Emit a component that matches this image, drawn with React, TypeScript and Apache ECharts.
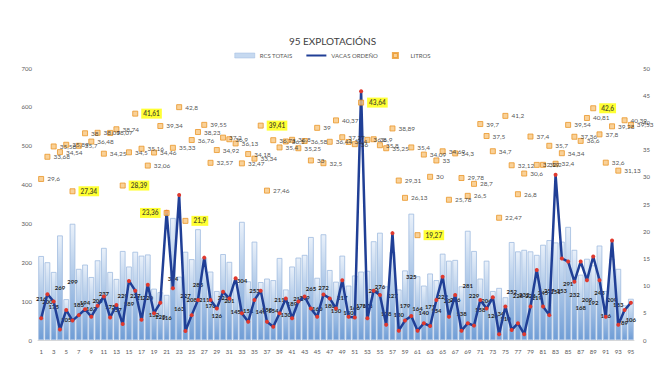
import React, { useEffect, useRef } from "react";
import * as echarts from "echarts";

const TITLE = "95 EXPLOTACIÓNS";
const SERIES_NAMES = ["RCS TOTAIS", "VACAS ORDEÑO", "LITROS"];

const categories: string[] = Array.from({ length: 95 }, (_, i) => String(i + 1));

const rcsTotais: number[] = [
  216, 200, 175, 269, 105, 299, 183, 194, 162, 205,
  237, 175, 157, 229, 189, 227, 217, 220, 132, 123,
  116, 314, 163, 227, 208, 285, 211, 176, 126, 221,
  201, 145, 304, 151, 253, 149, 158, 154, 211, 130,
  189, 212, 219, 265, 160, 272, 180, 150, 217, 140,
  166, 176, 178, 254, 276, 138, 227, 130, 179, 325,
  164, 140, 171, 154, 222, 204, 206, 138, 281, 229,
  158, 204, 126, 134, 110, 252, 228, 232, 228, 219,
  245, 257, 251, 253, 291, 232, 168, 209, 192, 243,
  126, 209, 183, 89, 106,
];

const vacasOrdeno: number[] = [
  56, 118, 99, 27, 77, 50, 64, 79, 60, 88,
  112, 58, 90, 41, 152, 127, 52, 142, 69, 96,
  330, 133, 373, 23, 64, 103, 212, 103, 81, 124,
  107, 159, 69, 47, 103, 127, 47, 34, 69, 107,
  56, 99, 112, 81, 60, 117, 107, 81, 154, 60,
  58, 640, 56, 127, 116, 39, 275, 24, 50, 62,
  24, 43, 36, 103, 163, 60, 116, 24, 43, 37,
  103, 81, 110, 15, 86, 26, 43, 15, 86, 180,
  86, 64, 425, 210, 202, 150, 202, 154, 215, 154,
  60, 256, 39, 77, 96,
];

const litros: number[] = [
  29.6, 33.68, 35.58, 34.54, 35.89, 27.34, 35.7, 38, 36.48, 38.09,
  34.25, 38.07, 38.74, 28.39, 34.5, 41.61, 35.16, 32.06, 34.46, 39.34,
  23.36, 35.33, 42.8, 21.9, 36.76, 38.23, 39.55, 32.57, 34.92, 37.2,
  36.9, 36.13, 32.47, 34.18, 33.34, 39.41, 27.46, 36.73, 35.4, 36.5,
  36.8, 35.25, 36.58, 33, 39, 32.5, 36.44, 40.37, 37.27, 36.4,
  36, 43.64, 36.8, 36.9, 35.8, 35.25, 38.89, 29.31, 26.13, 35.4,
  19.27, 34.09, 30, 33, 34.69, 25.78, 34.3, 29.78, 26.5, 28.7,
  39.7, 37.5, 34.7, 22.47, 41.2, 32.12, 26.8, 30.6, 37.4, 32.19,
  32.2, 35.7, 32.4, 34.34, 39.54, 37.36, 36.6, 40.81, 42.6, 37.8,
  32.6, 39.28, 31.13, 40.39, 39.53,
];

// farms whose litre label is highlighted in yellow
const highlightedLitros: number[] = [6, 14, 16, 21, 24, 36, 52, 61, 89];
const leftLabelLitros: number[] = [21];

const leftTicks = { min: 0, max: 700, interval: 100 };
const rightTicks = { min: 0, max: 50, interval: 5 };

const FONT = 'Lato, "Liberation Sans", "DejaVu Sans", sans-serif';

export default function App() {
  const ref = useRef<HTMLDivElement>(null);

  useEffect(() => {
    document.body.style.margin = "0";
    if (!ref.current) return;
    const chart = echarts.init(ref.current, undefined, { renderer: "svg" });

    const fmt = (v: number) => String(v).replace(".", ",");

    const litrosData = litros.map((v, i) => {
      const farm = i + 1;
      const item: any = { value: v };
      if (highlightedLitros.includes(farm)) {
        item.label = {
          backgroundColor: "#ffff00",
          padding: [2, 2, 1, 2],
          fontWeight: "bold",
        };
      }
      if (leftLabelLitros.includes(farm)) {
        item.label = { ...(item.label || {}), position: "left" };
      }
      return item;
    });

    const option: any = {
      animation: false,
      backgroundColor: "#ffffff",
      textStyle: { fontFamily: FONT },
      title: {
        text: TITLE,
        left: "center",
        top: 31,
        textStyle: { fontSize: 10, fontWeight: "normal", color: "#404040", fontFamily: FONT },
      },
      legend: {
        top: 47,
        left: "center",
        itemWidth: 20,
        itemHeight: 5,
        itemGap: 14,
        textStyle: { fontSize: 6, color: "#595959", fontFamily: FONT },
        data: [
          { name: SERIES_NAMES[0], icon: "rect", itemStyle: { color: "#c6d9f0", borderColor: "#9dbbe0", borderWidth: 0.5 } },
          { name: SERIES_NAMES[1], icon: "path://M0,0 L20,0 L20,2 L0,2 Z", itemStyle: { color: "#203f96" } },
          { name: SERIES_NAMES[2], icon: "path://M0,0 L10,0 L10,10 L0,10 Z" },
        ],
      },
      grid: { left: 38, right: 31, top: 68, bottom: 33 },
      xAxis: {
        type: "category",
        data: categories,
        axisLabel: { interval: 1, fontSize: 6, color: "#595959", margin: 8, fontFamily: FONT },
        axisTick: { show: false },
        axisLine: { lineStyle: { color: "#d9d9d9" } },
      },
      yAxis: [
        {
          type: "value",
          ...leftTicks,
          axisLabel: { fontSize: 6, color: "#595959", margin: 6, fontFamily: FONT },
          splitLine: { show: false },
          axisLine: { show: false },
          axisTick: { show: false },
        },
        {
          type: "value",
          ...rightTicks,
          axisLabel: { fontSize: 6, color: "#595959", margin: 9, fontFamily: FONT },
          splitLine: { show: false },
          axisLine: { show: false },
          axisTick: { show: false },
        },
      ],
      series: [
        {
          name: SERIES_NAMES[0],
          type: "bar",
          yAxisIndex: 0,
          data: rcsTotais,
          barCategoryGap: "10%",
          itemStyle: {
            color: new echarts.graphic.LinearGradient(0, 0, 0, 1, [
              { offset: 0, color: "#eaf1fa" },
              { offset: 0.3, color: "#c2d6ee" },
              { offset: 1, color: "#6f9dd6" },
            ]),
            borderColor: "#9fbbe0",
            borderWidth: 0.8,
          },
          label: {
            show: true,
            position: "inside",
            fontSize: 6,
            fontWeight: "bold",
            color: "#262626",
            fontFamily: FONT,
          },
          z: 1,
        },
        {
          name: SERIES_NAMES[1],
          type: "line",
          yAxisIndex: 0,
          data: vacasOrdeno,
          symbol: "circle",
          symbolSize: 4,
          showAllSymbol: true,
          lineStyle: { color: "#203f96", width: 2.5 },
          itemStyle: { color: "#e0392e", borderWidth: 0 },
          z: 3,
        },
        {
          name: SERIES_NAMES[2],
          type: "scatter",
          yAxisIndex: 1,
          data: litrosData,
          symbol: "rect",
          symbolSize: 5,
          itemStyle: { color: "#f7c57e", borderColor: "#ea9628", borderWidth: 1 },
          label: {
            show: true,
            position: "right",
            distance: 3,
            fontSize: 6.5,
            color: "#262626",
            fontFamily: FONT,
            formatter: (p: any) => fmt(p.value),
          },
          z: 4,
        },
      ],
    };

    chart.setOption(option);
    return () => chart.dispose();
  }, []);

  return (
    <div
      ref={ref}
      style={{ position: "absolute", left: 0, top: 0, width: 665, height: 373 }}
    />
  );
}
